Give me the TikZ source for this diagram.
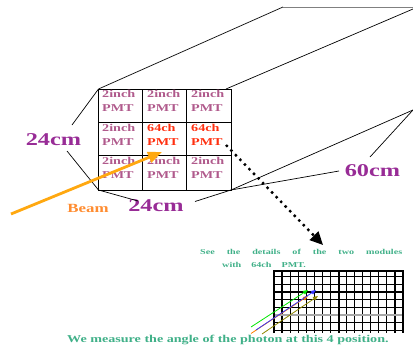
\documentclass[tikz,border=0pt]{standalone}
\usepackage{fontspec}
\setmainfont[FakeStretch=1.35]{Liberation Serif}
\usetikzlibrary{arrows.meta}
\definecolor{pmt}{HTML}{B05A8C}
\definecolor{ch}{HTML}{FF3010}
\definecolor{dim}{HTML}{982C96}
\definecolor{beamc}{HTML}{FFA810}
\definecolor{beamt}{HTML}{FF8C30}
\definecolor{note}{HTML}{40B088}
\tikzset{
  cell/.style={font=\bfseries\fontsize{10.5}{12.5}\selectfont,align=left,anchor=north west,inner sep=0pt},
  dimlabel/.style={font=\bfseries\fontsize{18}{18}\selectfont,text=dim,inner sep=0pt},
  notetext/.style={font=\bfseries\fontsize{7.5}{9}\selectfont,text=note,inner sep=0pt},
  outline/.style={draw=black,line width=0.7pt},
  ph/.style={line width=0.8pt,-{Triangle[length=5pt,width=4pt]}},
}
\begin{document}
\begin{tikzpicture}[x=1pt,y=-1pt]
\useasboundingbox (0,0) rectangle (413,351);
\coordinate (tl) at (98.5,89);
\coordinate (tr) at (231,89);
\coordinate (bl) at (98.5,190);
\coordinate (br) at (231,190);
\coordinate (t1) at (283,7);
\coordinate (t2) at (413,7);
\coordinate (t3) at (413,9);
\coordinate (b3) at (413,110);
\coordinate (trb) at (226,89);
\draw[outline] (tl) -- (t1);
\draw[draw=gray,line width=0.8pt] (t1) -- (t2);
\draw[outline] (trb) -- (t3);
\draw[outline] (br) -- (b3);
\draw[line width=0.8pt] (tl) rectangle (br);
\draw[line width=0.8pt] (142.5,89) -- (142.5,190) (186.5,89) -- (186.5,190);
\draw[line width=0.8pt] (98.5,122) -- (231,122) (98.5,155) -- (231,155);
\foreach \x/\y in {102/90,147/90,191/90,102/124,102/157,147/157,191/157}
  \node[cell,text=pmt] at (\x,\y) {2inch\\[2pt]PMT};
\foreach \x/\y in {147/124,191/124}
  \node[cell,text=ch] at (\x,\y) {64ch\\[2pt]PMT};
\node[dimlabel] (d1) at (53.5,140) {24cm};
\node[dimlabel] (d2) at (156,206) {24cm};
\node[dimlabel] (d3) at (372.5,171) {60cm};
\coordinate (d1a) at (72,125);
\coordinate (d1b) at (67,151);
\coordinate (d2a) at (138,201);
\coordinate (d2b) at (195,201.5);
\coordinate (d3a) at (339,171);
\coordinate (d3b) at (370,157);
\draw[outline] (d1a) -- (tl);
\draw[outline] (d1b) -- (bl);
\draw[outline] (bl) -- (d2a);
\draw[outline] (d2b) -- (br);
\draw[outline] (br) -- (d3a);
\draw[outline] (d3b) -- (b3);
\node[font=\bfseries\fontsize{12.5}{12.5}\selectfont,text=beamt,inner sep=0pt] (beam) at (88,208) {Beam};
\coordinate (bs) at (11,214);
\coordinate (be) at (162,152);
\draw[beamc,line width=2.8pt,-{Triangle[length=14pt,width=11pt]}] (bs) -- (be);
\coordinate (ds) at (226,145);
\coordinate (de) at (323,245);
\draw[line width=2.4pt,dash pattern=on 2.4pt off 4.1pt,-{Triangle[length=13pt,width=12pt,fill=black]}] (ds) -- (de);
\node[notetext,anchor=west,text width=202pt,align=justify] (n1) at (200,252) {See\hfill the\hfill details\hfill of\hfill the\hfill two\hfill modules};
\node[notetext,anchor=west] (n2) at (222,264.5) {with\hspace{10pt}64ch\hspace{10pt}PMT.};
\foreach \i in {0,...,16} \draw[line width=1.2pt] ({274+\i*8.06},271) -- ({274+\i*8.06},333);
\foreach \yy in {276.5,284.2,291.9,299.6,307.3,322.7,330.4} \draw[line width=1.2pt] (274,\yy) -- (403,\yy);
\draw[draw=gray!70,line width=1.4pt] (274,315) -- (403,315);
\draw[line width=2pt] (274,333) -- (274,271) -- (403,271) -- (403,333);
\draw[line width=2pt] (339,271) -- (339,333);
\coordinate (g0) at (251,327); \coordinate (g1) at (308,290);
\coordinate (o0) at (251,333.5); \coordinate (o1) at (308,296);
\coordinate (b0) at (256,330); \coordinate (b1) at (316,290);
\coordinate (y0) at (262,334); \coordinate (y1) at (318,296);
\draw[ph,green!90!black] (g0) -- (g1);
\draw[ph,orange] (o0) -- (o1);
\draw[ph,blue!80!white] (b0) -- (b1);
\draw[ph,olive] (y0) -- (y1);
\node[font=\bfseries\fontsize{10.45}{10.45}\selectfont,text=note,inner sep=0pt,anchor=west] (m) at (67,339.5) {We measure the angle of the photon at this 4 position.};
\end{tikzpicture}
\end{document}
